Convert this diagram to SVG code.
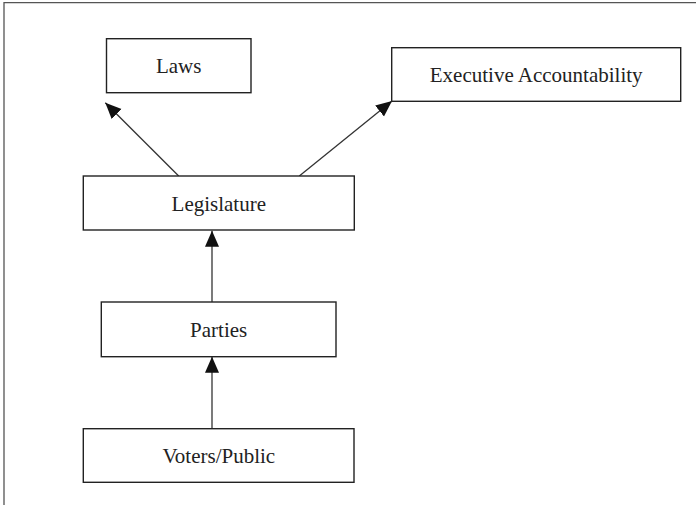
<svg xmlns="http://www.w3.org/2000/svg" width="696" height="505" viewBox="0 0 696 505">
<style>
  .box { fill: #ffffff; stroke: #222222; stroke-width: 1.4; }
  .lbl { font-family: "Liberation Serif", "Times New Roman", serif; font-size: 21px; fill: #222222; text-anchor: middle; }
  .edge { stroke: #333333; stroke-width: 1.3; fill: none; marker-end: url(#arrow); }
  .frame { stroke: #555555; stroke-width: 1.3; fill: none; }
</style>
<defs>
  <marker id="arrow" markerUnits="userSpaceOnUse" markerWidth="17" markerHeight="15" refX="16" refY="7" orient="auto">
    <path d="M0,0 L16,7 L0,14 z" fill="#111111"/>
  </marker>
</defs>
<rect width="696" height="505" fill="#ffffff"/>
<path class="frame" d="M4,505 L4,2.7 L696,2.7"/>
<g id="connectors">
  <line class="edge" x1="178.7" y1="176" x2="105.3" y2="102.7"/>
  <line class="edge" x1="299.3" y1="176" x2="392" y2="101"/>
  <line class="edge" x1="212" y1="302" x2="212" y2="230.7"/>
  <line class="edge" x1="212" y1="428.7" x2="212" y2="356.7"/>
</g>
<g id="laws">
  <rect class="box" x="106.5" y="38.7" width="144.5" height="54"/>
  <text class="lbl" x="178.7" y="73.3">Laws</text>
</g>
<g id="executive">
  <rect class="box" x="391.7" y="47.7" width="289" height="53.6"/>
  <text class="lbl" x="536.2" y="82.3">Executive Accountability</text>
</g>
<g id="legislature">
  <rect class="box" x="83.3" y="176" width="271" height="54"/>
  <text class="lbl" x="218.8" y="210.7">Legislature</text>
</g>
<g id="parties">
  <rect class="box" x="101.3" y="302" width="234.7" height="54.7"/>
  <text class="lbl" x="218.7" y="337.3">Parties</text>
</g>
<g id="voters">
  <rect class="box" x="83.3" y="428.7" width="270.7" height="53.6"/>
  <text class="lbl" x="218.8" y="463.3">Voters/Public</text>
</g>
</svg>
